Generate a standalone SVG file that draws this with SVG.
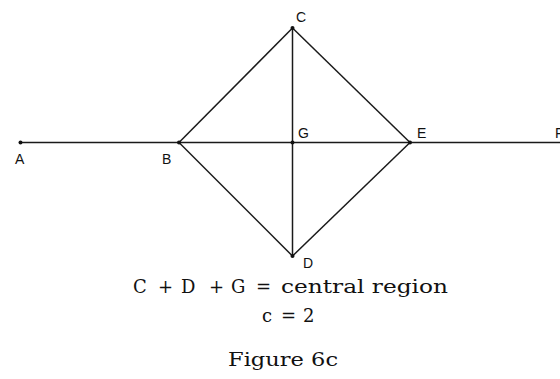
<svg xmlns="http://www.w3.org/2000/svg" width="560" height="379" viewBox="0 0 560 379">
<style>
.ln{stroke:#1a1a1a;stroke-width:1.5;fill:none}
.pt{fill:#111}
.lb{font-family:"Liberation Sans",Arial,sans-serif;font-size:14px;fill:#111}
.cap{font-family:"DejaVu Serif","Liberation Serif",serif;font-size:18px;fill:#111}
</style>
<rect width="560" height="379" fill="#fff"/>
<g id="connectors">
<line class="ln" x1="20" y1="142.5" x2="560" y2="142.5"/>
<line class="ln" x1="292.5" y1="28" x2="292.5" y2="256"/>
<line class="ln" x1="179" y1="142.5" x2="292.5" y2="28"/>
<line class="ln" x1="292.5" y1="28" x2="410" y2="142.5"/>
<line class="ln" x1="179" y1="142.5" x2="292.5" y2="256"/>
<line class="ln" x1="292.5" y1="256" x2="410" y2="142.5"/>
</g>
<g id="A"><circle class="pt" cx="20.5" cy="142.5" r="2"/><text class="lb" x="15" y="164">A</text></g>
<g id="B"><circle class="pt" cx="179" cy="142.5" r="2"/><text class="lb" x="162" y="164">B</text></g>
<g id="C"><circle class="pt" cx="292.5" cy="28" r="2"/><text class="lb" x="296" y="22">C</text></g>
<g id="G"><circle class="pt" cx="292.5" cy="142.5" r="2"/><text class="lb" x="298" y="138">G</text></g>
<g id="E"><circle class="pt" cx="410" cy="142.5" r="2"/><text class="lb" x="417" y="138">E</text></g>
<g id="D"><circle class="pt" cx="292.5" cy="256" r="2"/><text class="lb" x="303" y="268">D</text></g>
<g id="F"><text class="lb" x="555" y="138">F</text></g>
<text class="cap" y="293"><tspan x="133">C</tspan><tspan x="158">+</tspan><tspan x="181">D</tspan><tspan x="209">+</tspan><tspan x="231">G</tspan><tspan x="256">=</tspan><tspan x="281" textLength="167" lengthAdjust="spacingAndGlyphs">central region</tspan></text>
<text class="cap" y="322"><tspan x="262">c</tspan><tspan x="281">=</tspan><tspan x="303">2</tspan></text>
<text class="cap" x="228" y="366" textLength="110" lengthAdjust="spacingAndGlyphs">Figure 6c</text>
</svg>
